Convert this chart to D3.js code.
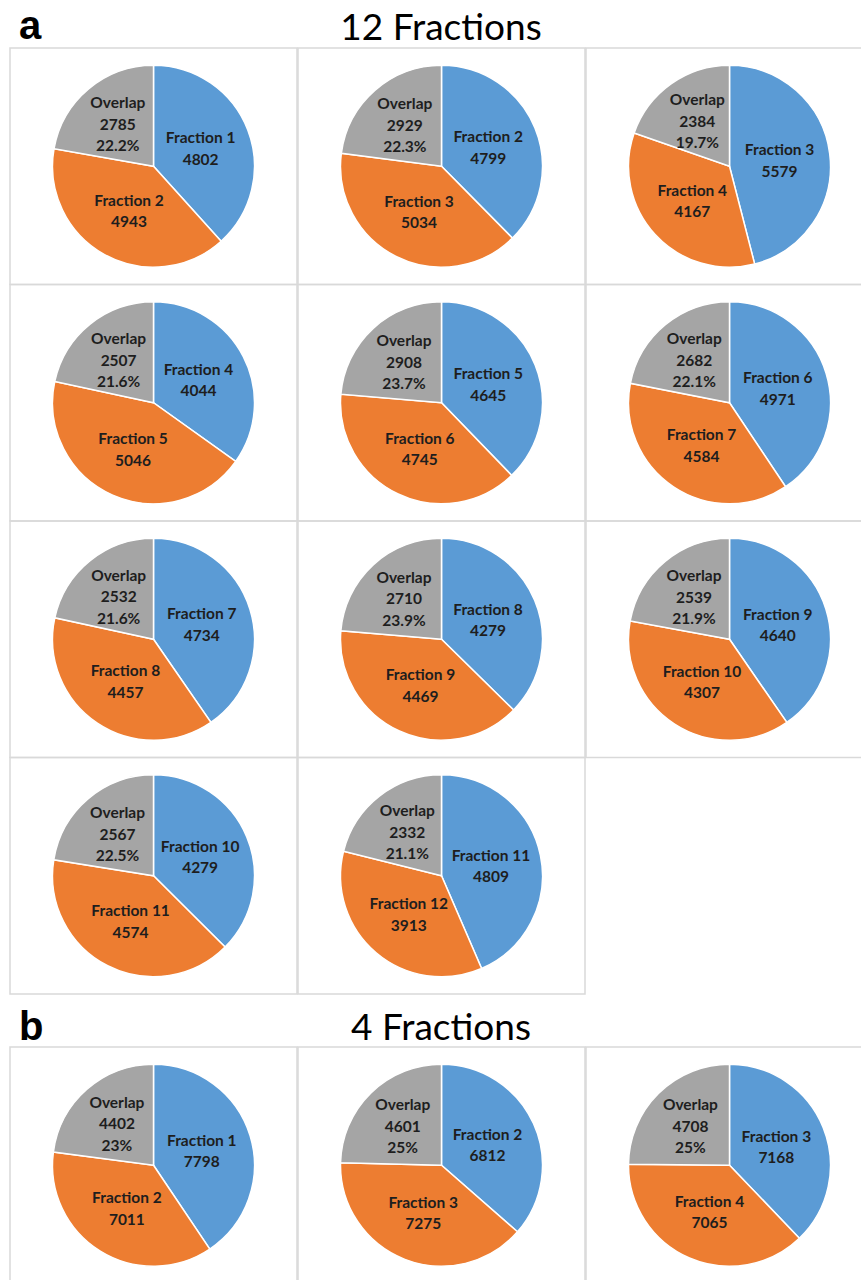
<!DOCTYPE html>
<html>
<head>
<meta charset="utf-8">
<script src="https://cdn.jsdelivr.net/npm/d3@7"></script>
<style>
  body { margin: 0; background: #fff; }
  svg { display: block; }
</style>
</head>
<body>
<script>
// panel a: 12 fractions, adjacent pairs
const namesA12 = ["Fraction 1", "Fraction 2", "Fraction 3", "Fraction 4", "Fraction 5", "Fraction 6",
                  "Fraction 7", "Fraction 8", "Fraction 9", "Fraction 10", "Fraction 11"];
const namesB12 = ["Fraction 2", "Fraction 3", "Fraction 4", "Fraction 5", "Fraction 6", "Fraction 7",
                  "Fraction 8", "Fraction 9", "Fraction 10", "Fraction 11", "Fraction 12"];
const countsA12 = [4802, 4799, 5579, 4044, 4645, 4971, 4734, 4279, 4640, 4279, 4809];
const countsB12 = [4943, 5034, 4167, 5046, 4745, 4584, 4457, 4469, 4307, 4574, 3913];
const overlap12 = [2785, 2929, 2384, 2507, 2908, 2682, 2532, 2710, 2539, 2567, 2332];
const pct12 = ["22.2%", "22.3%", "19.7%", "21.6%", "23.7%", "22.1%", "21.6%", "23.9%", "21.9%", "22.5%", "21.1%"];

// panel b: 4 fractions
const namesA4 = ["Fraction 1", "Fraction 2", "Fraction 3"];
const namesB4 = ["Fraction 2", "Fraction 3", "Fraction 4"];
const countsA4 = [7798, 6812, 7168];
const countsB4 = [7011, 7275, 7065];
const overlap4 = [4402, 4601, 4708];
const pct4 = ["23%", "25%", "25%"];

const colors = ["#5b9bd5", "#ed7d31", "#a5a5a5"];

const W = 861, H = 1280;
const cellW = 288, cellH = 236.5, radius = 101;
const font = "Lato, 'Open Sans', sans-serif";

const svg = d3.select("body").append("svg")
    .attr("width", W)
    .attr("height", H);

const pie = d3.pie().sort(null).startAngle(0).endAngle(2 * Math.PI);
const arc = d3.arc().innerRadius(0).outerRadius(radius);
const labelArc = d3.arc().innerRadius(0).outerRadius(radius * 1.0);
const grayArc = d3.arc().innerRadius(0).outerRadius(radius * 1.1);

function drawPie(g, cx, cy, nameA, nameB, a, b, ov, pct) {
    const arcs = pie([a, b, ov]);
    const p = g.append("g").attr("transform", "translate(" + cx + "," + cy + ")");

    p.selectAll("path")
        .data(arcs)
        .enter()
        .append("path")
        .attr("d", arc)
        .attr("fill", (d, i) => colors[i])
        .attr("stroke", "#fff")
        .attr("stroke-width", 1.5);

    const labels = [[nameA, a], [nameB, b], ["Overlap", ov, pct]];
    arcs.forEach((d, i) => {
        const c = i === 2 ? grayArc.centroid(d) : labelArc.centroid(d);
        const lines = labels[i];
        const lh = 21.5;
        const t = p.append("text")
            .attr("text-anchor", "middle")
            .attr("font-family", font)
            .attr("font-weight", "bold")
            .attr("font-size", 15.5)
            .attr("fill", "#1e1e1e");
        lines.forEach((s, k) => {
            t.append("tspan")
                .attr("x", c[0])
                .attr("y", c[1] + (k - (lines.length - 1) / 2) * lh + 6)
                .text(s);
        });
    });
}

function drawPanel(top, names1, names2, c1, c2, ov, pct) {
    const g = svg.append("g");
    names1.forEach((n, i) => {
        const col = i % 3, row = Math.floor(i / 3);
        const x0 = 10 + col * cellW, y0 = top + row * cellH;
        g.append("rect")
            .attr("x", x0)
            .attr("y", y0)
            .attr("width", cellW - 1)
            .attr("height", cellH)
            .attr("fill", "none")
            .attr("stroke", "#d9d9d9")
            .attr("stroke-width", 1.5);
        drawPie(g, x0 + cellW / 2 - 0.5, y0 + cellH / 2, n, names2[i], c1[i], c2[i], ov[i], pct[i]);
    });
}

drawPanel(48, namesA12, namesB12, countsA12, countsB12, overlap12, pct12);
drawPanel(1047, namesA4, namesB4, countsA4, countsB4, overlap4, pct4);

// panel letters and titles
svg.append("text")
    .attr("x", 19).attr("y", 39)
    .attr("font-family", "'Liberation Sans', Arial, sans-serif")
    .attr("font-weight", "bold").attr("font-size", 40)
    .text("a");
svg.append("text")
    .attr("x", 441).attr("y", 40)
    .attr("text-anchor", "middle")
    .attr("font-family", font).attr("font-size", 37)
    .text("12 Fractions");

svg.append("text")
    .attr("x", 19).attr("y", 1040)
    .attr("font-family", "'Liberation Sans', Arial, sans-serif")
    .attr("font-weight", "bold").attr("font-size", 40)
    .text("b");
svg.append("text")
    .attr("x", 441).attr("y", 1040)
    .attr("text-anchor", "middle")
    .attr("font-family", font).attr("font-size", 37)
    .text("4 Fractions");
</script>
</body>
</html>
